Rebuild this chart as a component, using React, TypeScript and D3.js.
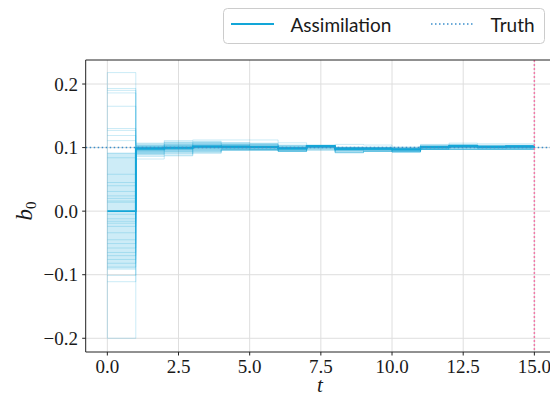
import React from "react";
import * as d3 from "d3";

// Assimilation step boundaries (t = 0 … 15), one value per unit interval
const intervals = d3.range(0, 15);

// Assimilated estimate of b0 on each interval
const meanValues = [
  0.0, 0.0985, 0.0995, 0.1015, 0.1012, 0.1008, 0.0988, 0.1022, 0.0982, 0.0985,
  0.0972, 0.1008, 0.1022, 0.1012, 0.1018,
];

// Spread band (lower / upper) on each interval
const bandLower = [
  -0.092, 0.09, 0.093, 0.094, 0.097, 0.097, 0.095, 0.1, 0.095, 0.096, 0.095,
  0.098, 0.099, 0.099, 0.099,
];
const bandUpper = [
  0.092, 0.107, 0.11, 0.11, 0.108, 0.107, 0.104, 0.104, 0.101, 0.101, 0.1,
  0.104, 0.105, 0.104, 0.104,
];

// Ensemble members, one row per member, one value per interval
const members: number[][] = [
  [0.218, .107, .111, .112, .112, .112, .1075, .103, .105, .104, .101, .105, .107, .106, .106],
  [0.193, .104, .108, .110, .108, .107, .104, .104, .101, .101, .100, .104, .105, .104, .104],
  [0.190, .103, .106, .108, .106, .106, .103, .103, .100, .100, .099, .103, .104, .103, .103],
  [0.186, .102, .105, .107, .105, .105, .102, .1035, .100, .0995, .0985, .102, .104, .103, .103],
  [0.165, .101, .104, .106, .105, .104, .101, .103, .099, .099, .098, .102, .103, .102, .103],
  [0.130, .100, .103, .105, .104, .104, .101, .103, .0995, .099, .098, .1015, .103, .102, .102],
  [0.127, .100, .102, .104, .103, .103, .100, .102, .099, .099, .098, .101, .103, .102, .102],
  [0.119, .099, .101, .103, .103, .102, .100, .102, .099, .0985, .0975, .101, .102, .1015, .102],
  [0.111, .099, .100, .103, .102, .102, .0995, .102, .098, .0985, .097, .101, .102, .101, .102],
  [0.091, .098, .100, .102, .102, .101, .099, .102, .098, .098, .097, .1005, .1025, .101, .1015],
  [0.084, .098, .099, .102, .101, .101, .099, .1015, .098, .098, .097, .100, .102, .101, .101],
  [0.058, .097, .099, .101, .101, .1005, .0985, .1015, .0975, .098, .0965, .100, .102, .101, .101],
  [0.045, .097, .098, .101, .100, .100, .098, .101, .0975, .0975, .0965, .100, .1015, .1005, .101],
  [0.040, .096, .098, .100, .100, .100, .098, .101, .097, .0975, .096, .0995, .101, .100, .1005],
  [0.031, .096, .097, .100, .0995, .0995, .0975, .101, .097, .097, .096, .0995, .101, .100, .100],
  [0.024, .095, .097, .099, .099, .099, .097, .1005, .0965, .097, .0955, .099, .1005, .0995, .100],
  [0.016, .094, .096, .099, .099, .099, .097, .100, .096, .0965, .095, .099, .100, .0995, .0995],
  [0.014, .093, .095, .098, .098, .098, .096, .100, .096, .096, .095, .098, .100, .099, .099],
  [-0.005, .092, .094, .097, .098, .097, .096, .0995, .095, .096, .094, .098, .099, .099, .099],
  [-0.012, .091, .093, .096, .097, .097, .095, .099, .095, .095, .094, .0975, .099, .098, .0985],
  [-0.016, .090, .092, .095, .097, .097, .095, .099, .094, .095, .094, .097, .098, .098, .098],
  [-0.019, .089, .091, .094, .096, .096, .094, .098, .093, .094, .093, .097, .097, .097, .097],
  [-0.024, .088, .090, .093, .096, .096, .094, .097, .092, .094, .093, .097, .097, .097, .097],
  [-0.034, .086, .088, .092, .096, .096, .094, .096, .092, .094, .093, .097, .097, .097, .097],
  [-0.045, .082, .087, .091, .096, .096, .094, .096, .092, .094, .093, .097, .097, .097, .097],
  [-0.051, .099, .100, .102, .102, .101, .099, .102, .098, .098, .097, .101, .102, .101, .102],
  [-0.058, .100, .101, .102, .102, .101, .099, .1025, .098, .099, .097, .101, .1025, .1015, .102],
  [-0.065, .098, .099, .101, .101, .101, .099, .102, .098, .098, .097, .100, .102, .101, .1015],
  [-0.070, .101, .102, .104, .103, .102, .100, .103, .099, .099, .098, .101, .103, .102, .102],
  [-0.076, .099, .099, .101, .101, .1005, .098, .102, .098, .098, .097, .100, .102, .101, .102],
  [-0.082, .100, .100, .102, .102, .101, .099, .1025, .0985, .0985, .0975, .101, .102, .1015, .102],
  [-0.088, .102, .103, .103, .102, .101, .099, .102, .0985, .0985, .0975, .101, .1025, .101, .102],
  [-0.101, .098, .100, .102, .101, .101, .0985, .102, .098, .0985, .097, .1005, .102, .101, .1015],
  [-0.111, .097, .100, .101, .101, .100, .098, .1015, .098, .098, .097, .100, .102, .101, .1015],
  [-0.200, .095, .098, .100, .100, .100, .098, .1015, .097, .098, .0965, .100, .101, .100, .101],
  [0.020, .100, .101, .102, .102, .101, .099, .102, .099, .099, .097, .101, .102, .101, .102],
];

const truthValue = 0.1;
const endTime = 15;

const xTicks = [0, 2.5, 5, 7.5, 10, 12.5, 15];
const yTicks = [-0.2, -0.1, 0.0, 0.1, 0.2];

const WIDTH = 550;
const HEIGHT = 397;
const plot = { left: 85.7, right: 561.7, top: 60, bottom: 352 };

const BLUE = "#12a6d8";
const serif = "'Liberation Serif', 'DejaVu Serif', serif";
const sans = "Lato, 'Open Sans', sans-serif";

const fmtTick = (v: number) => {
  const s = Math.abs(v).toFixed(1);
  return v < -1e-9 ? "\u2212" + s : s;
};

export default function App() {
  const x = d3.scaleLinear().domain([-0.76, 15.96]).range([plot.left, plot.right]);
  const y = d3.scaleLinear().domain([-0.2216, 0.2378]).range([plot.bottom, plot.top]);

  // Step series: value i holds on [i, i+1]
  const stepPoints = (vals: number[]) =>
    [...vals.map((v, i) => [i, v] as [number, number]), [vals.length, vals[vals.length - 1]] as [number, number]];

  const stepLine = d3
    .line<[number, number]>()
    .x((d) => x(d[0]))
    .y((d) => y(d[1]))
    .curve(d3.curveStepAfter);

  const bandData = [...intervals, endTime].map((t) => {
    const i = Math.min(t, intervals.length - 1);
    return { t, lo: bandLower[i], hi: bandUpper[i] };
  });
  const band = d3
    .area<{ t: number; lo: number; hi: number }>()
    .x((d) => x(d.t))
    .y0((d) => y(d.lo))
    .y1((d) => y(d.hi))
    .curve(d3.curveStepAfter);

  const initial = members.map((m) => m[0]);
  const [initMin, initMax] = d3.extent(initial) as [number, number];

  return (
    <svg
      width={WIDTH}
      height={HEIGHT}
      style={{ position: "absolute", left: 0, top: 0, background: "#fff" }}
    >
      <defs>
        <clipPath id="plotArea">
          <rect x={plot.left} y={plot.top} width={plot.right - plot.left} height={plot.bottom - plot.top} />
        </clipPath>
      </defs>

      {/* grid */}
      <g stroke="#dedede" strokeWidth={1}>
        {xTicks.map((t) => (
          <line key={"gx" + t} x1={x(t)} x2={x(t)} y1={plot.top} y2={plot.bottom} />
        ))}
        {yTicks.map((t) => (
          <line key={"gy" + t} x1={plot.left} x2={plot.right} y1={y(t)} y2={y(t)} />
        ))}
      </g>

      <g clipPath="url(#plotArea)">
        {/* spread band */}
        <path d={band(bandData) ?? ""} fill={BLUE} fillOpacity={0.21} stroke="none" />

        {/* ensemble members */}
        <g fill="none" stroke={BLUE} strokeOpacity={0.22} strokeWidth={1}>
          <line x1={x(0)} x2={x(0)} y1={y(initMin)} y2={y(initMax)} />
          {members.map((m, k) => (
            <path key={k} d={stepLine(stepPoints(m)) ?? ""} />
          ))}
        </g>

        {/* assimilated estimate */}
        <path d={stepLine(stepPoints(meanValues)) ?? ""} fill="none" stroke={BLUE} strokeWidth={1.8} />

        {/* truth */}
        <line
          x1={plot.left}
          x2={plot.right}
          y1={y(truthValue)}
          y2={y(truthValue)}
          stroke="#3b8fcc"
          strokeWidth={1.5}
          strokeDasharray="1.5,2.5"
        />

        {/* end of assimilation window */}
        <line
          x1={x(endTime)}
          x2={x(endTime)}
          y1={plot.top}
          y2={plot.bottom}
          stroke="#f07aa8"
          strokeWidth={1.5}
          strokeDasharray="2,2"
        />
      </g>

      {/* spines */}
      <g stroke="#222" strokeWidth={1} fill="none">
        <line x1={plot.left} x2={plot.left} y1={plot.top} y2={plot.bottom} />
        <line x1={plot.left} x2={plot.right} y1={plot.bottom} y2={plot.bottom} />
        <line x1={plot.left} x2={plot.right} y1={plot.top} y2={plot.top} />
      </g>

      {/* x axis */}
      <g>
        {xTicks.map((t) => (
          <g key={"xt" + t}>
            <line x1={x(t)} x2={x(t)} y1={plot.bottom} y2={plot.bottom + 3.5} stroke="#222" />
            <text x={x(t)} y={373} textAnchor="middle" fontFamily={serif} fontSize={19} fill="#1a1a1a">
              {fmtTick(t)}
            </text>
          </g>
        ))}
        <text x={320} y={392} textAnchor="middle" fontFamily={serif} fontStyle="italic" fontSize={21} fill="#1a1a1a">
          t
        </text>
      </g>

      {/* y axis */}
      <g>
        {yTicks.map((t) => (
          <g key={"yt" + t}>
            <line x1={plot.left - 3.5} x2={plot.left} y1={y(t)} y2={y(t)} stroke="#222" />
            <text x={78} y={y(t) + 6.5} textAnchor="end" fontFamily={serif} fontSize={19} fill="#1a1a1a">
              {fmtTick(t)}
            </text>
          </g>
        ))}
        <text
          transform={`translate(32, 211) rotate(-90)`}
          textAnchor="middle"
          fontFamily={serif}
          fontSize={23}
          fill="#1a1a1a"
        >
          <tspan fontStyle="italic">b</tspan>
          <tspan fontSize={15} dy={4}>0</tspan>
        </text>
      </g>

      {/* legend */}
      <g>
        <rect x={223.5} y={8.5} width={321} height={35} rx={4} fill="#fff" fillOpacity={0.85} stroke="#cccccc" />
        <line x1={231} x2={274} y1={24} y2={24} stroke={BLUE} strokeWidth={1.8} />
        <text x={290.5} y={32} fontFamily={sans} fontSize={19} fill="#1a1a1a">
          Assimilation
        </text>
        <line x1={431} x2={474} y1={24} y2={24} stroke="#3b8fcc" strokeWidth={1.5} strokeDasharray="1.5,2.5" />
        <text x={490.5} y={32} fontFamily={sans} fontSize={19} fill="#1a1a1a">
          Truth
        </text>
      </g>
    </svg>
  );
}
